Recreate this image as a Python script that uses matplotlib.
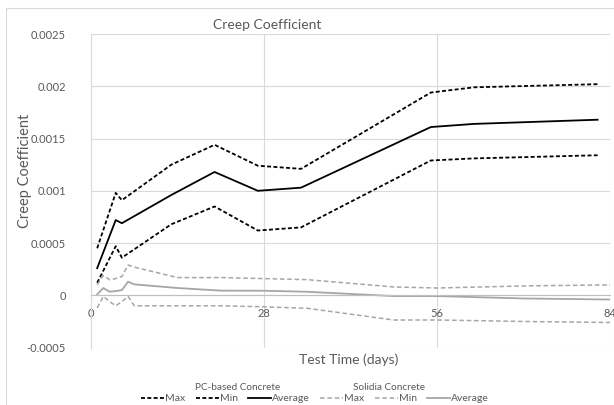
import matplotlib
matplotlib.use("Agg")
import matplotlib.pyplot as plt
from matplotlib.patches import Rectangle

plt.rcParams['font.family'] = ['Lato', 'DejaVu Sans']

# PC-based concrete
pc_days = [1, 4, 5, 13, 20, 27, 34, 55, 62, 82]
pc_max = [0.00045, 0.00098, 0.00091, 0.00125, 0.00144, 0.00124, 0.00121, 0.00194, 0.00199, 0.00202]
pc_min = [0.00012, 0.00047, 0.00036, 0.00068, 0.00085, 0.00062, 0.00065, 0.00129, 0.00131, 0.00134]
pc_avg = [0.00026, 0.00072, 0.00069, 0.00096, 0.00118, 0.00100, 0.00103, 0.00161, 0.00164, 0.00168]

# Solidia concrete
sol_days = [1, 2, 3, 4, 5, 6, 7, 14, 21, 28, 35, 49, 56, 70, 84]
sol_max = [0.00010, 0.00019, 0.00015, 0.00016, 0.00018, 0.00029, 0.00027, 0.00017,
           0.00017, 0.00016, 0.00015, 0.00008, 0.00007, 0.00009, 0.00010]
sol_min = [-0.00012, -0.00001, -0.00006, -0.00010, -0.00006, -0.00001, -0.00010, -0.00010,
           -0.00010, -0.00011, -0.000124, -0.000236, -0.000236, -0.00025, -0.00026]
sol_avg = [0.00001, 0.00007, 0.000035, 0.00004, 0.00005, 0.00013, 0.000105, 0.00007,
           0.000045, 0.000044, 0.000034, -0.000007, -0.000007, -0.00003, -0.00004]

x_ticks = [0, 28, 56, 84]
y_ticks = [-0.0005, 0, 0.0005, 0.001, 0.0015, 0.002, 0.0025]
y_labels = ['-0.0005', '0', '0.0005', '0.001', '0.0015', '0.002', '0.0025']

W, H = 614, 405
TXT = '#595959'
GRID = '#d9d9d9'
GRAY = '#a6a6a6'


def main():
    fig = plt.figure(figsize=(W / 100, H / 100), dpi=100)
    fig.patches.append(Rectangle((6 / W, -0.1), 1.2, 1 - 8 / H + 0.1, transform=fig.transFigure,
                                 fill=False, edgecolor=GRID, linewidth=0.8))
    ax = fig.add_axes([91 / W, 1 - 347.6 / H, (610 - 91) / W, (347.6 - 34) / H])

    dash = (0, (2.2, 1.3))
    ax.plot(pc_days, pc_max, color='black', linewidth=1.3, linestyle=dash, label='Max')
    ax.plot(pc_days, pc_min, color='black', linewidth=1.3, linestyle=dash, label='Min')
    ax.plot(pc_days, pc_avg, color='black', linewidth=1.3, label='Average')
    ax.plot(sol_days, sol_max, color=GRAY, linewidth=1.1, linestyle=(0, (3, 1.8)), label='Max')
    ax.plot(sol_days, sol_min, color=GRAY, linewidth=1.1, linestyle=(0, (3, 1.8)), label='Min')
    ax.plot(sol_days, sol_avg, color=GRAY, linewidth=1.3, label='Average')

    ax.set_xlim(0, 84)
    ax.set_ylim(-0.0005, 0.0025)
    ax.set_xticks(x_ticks)
    ax.set_yticks(y_ticks)
    ax.set_yticklabels(y_labels)
    ax.grid(True, color=GRID, linewidth=0.8)
    ax.set_axisbelow(True)
    for s in ['top', 'right']:
        ax.spines[s].set_visible(False)
    ax.spines['left'].set_color(GRID)
    ax.spines['bottom'].set_position(('data', 0))
    ax.spines['bottom'].set_color('#bfbfbf')
    ax.tick_params(length=0, labelcolor=TXT, labelsize=8)
    ax.tick_params(axis='y', pad=18)
    ax.tick_params(axis='x', pad=9)

    fig.text(267 / W, 1 - 25 / H, 'Creep Coefficient', ha='center', va='center', color=TXT, fontsize=10)
    fig.text(25 / W, 1 - 171 / H, 'Creep Coefficient', ha='center', va='center', color=TXT,
             fontsize=10.5, rotation=90)
    fig.text(349 / W, 1 - 360 / H, 'Test Time (days)', ha='center', va='center', color=TXT, fontsize=10)

    fig.text(238 / W, 1 - 388 / H, 'PC-based Concrete', ha='center', va='center', color=TXT, fontsize=7.2)
    fig.text(389 / W, 1 - 388 / H, 'Solidia Concrete', ha='center', va='center', color=TXT, fontsize=7.2)

    handles, labels = ax.get_legend_handles_labels()
    fig.legend(handles, labels, ncol=6, loc='center', bbox_to_anchor=(315 / W, 1 - 398.5 / H),
               frameon=False, fontsize=7.5, labelcolor=TXT, handlelength=2.2, handletextpad=0.1,
               columnspacing=1.0, borderpad=0)

    fig.savefig('out.png', dpi=100)


if __name__ == "__main__":
    main()
